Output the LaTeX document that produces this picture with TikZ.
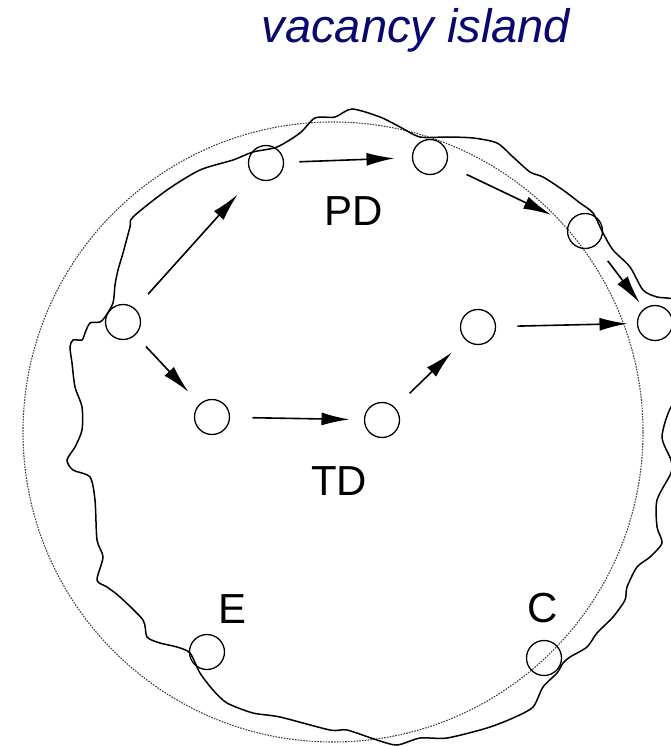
\documentclass[tikz,border=0pt]{standalone}
\usepackage{fontspec}
\setmainfont{Liberation Sans}
\usetikzlibrary{arrows.meta}
\definecolor{islandblue}{RGB}{8,8,112}

\begin{document}
\begin{tikzpicture}[x=1pt,y=-1pt,
  site/.style={draw,circle,line width=1.3pt,minimum size=35pt,inner sep=0pt,outer sep=0pt},
  hop/.style={line width=1.6pt,-{Latex[length=28pt,width=13pt]},shorten <=20pt,shorten >=17pt},
  tag/.style={anchor=base,font=\fontsize{42}{48}\selectfont}]
\useasboundingbox (0,0) rectangle (671,746);
\clip (0,0) rectangle (671,746);
\node[anchor=base,text=islandblue,font=\fontsize{47}{56}\selectfont\itshape] (title) at (416,43) {vacancy island};
\draw[black!75,dash pattern=on 1.6pt off 1.2pt,line width=1.1pt] (333,432) circle (310);
\draw[line width=1.5pt] plot[smooth cycle,tension=0.45] coordinates {
  (315,118) (335,117) (352,109) (380,117) (400,127) (420,137) (447,137) (473,138)
  (497,143) (513,157) (530,172) (543,177) (563,190) (580,203) (593,213) (603,233)
  (613,250) (630,267) (643,290) (657,297) (675,300) (690,320) (690,390) (671,407)
  (662,437) (671,460) (671,473) (657,500) (657,527) (662,543) (650,557) (637,567)
  (627,587) (625,600) (613,617) (597,633) (587,647) (570,657) (563,663) (557,673)
  (543,687) (533,707) (513,718) (487,728) (447,738) (420,738) (397,745) (377,740)
  (347,730) (330,730) (280,717) (253,713) (227,703) (213,690) (200,673) (190,653)
  (177,647) (160,643) (147,637) (143,620) (120,597) (107,587) (97,580) (103,557)
  (97,540) (95,500) (90,477) (73,470) (67,460) (75,447) (82,430) (82,407) (75,387)
  (72,363) (70,347) (73,340) (82,340) (85,333) (90,323) (100,322) (105,317) (113,303)
  (115,285) (118,270) (123,253) (130,227) (133,217) (167,190) (200,170) (233,160)
  (253,152) (277,147) (300,133)};
\node[site,fill=white] (start) at (123,322) {};
\node[site] (pd1) at (266,163) {};
\node[site] (pd2) at (430,157) {};
\node[site] (pd3) at (585,231) {};
\node[site] (edge) at (655,323) {};
\node[site] (td1) at (212,417) {};
\node[site] (td2) at (382,420) {};
\node[site] (td3) at (478,327) {};
\node[site] (emit) at (207,652) {};
\node[site] (capt) at (544,658) {};
\node[tag] (pd) at (354,225) {PD};
\node[tag] (td) at (339,495) {TD};
\node[tag] (e) at (233,623) {E};
\node[tag] (c) at (543,622) {C};
\draw[hop,shorten >=25pt] (start) -- (pd1);
\draw[hop,shorten <=16pt,shorten >=18pt] (pd1) -- (pd2);
\draw[hop,shorten <=23pt,shorten >=20pt] (pd2) -- (pd3);
\draw[hop,shorten >=8pt] (pd3) -- (edge);
\draw[hop,shorten <=16pt,shorten >=17pt] (start) -- (td1);
\draw[hop,shorten <=23pt,shorten >=15pt] (td1) -- (td2);
\draw[hop,shorten <=21pt,shorten >=19pt] (td2) -- (td3);
\draw[hop,shorten <=22pt,shorten >=10pt] (td3) -- (edge);
\end{tikzpicture}
\end{document}
